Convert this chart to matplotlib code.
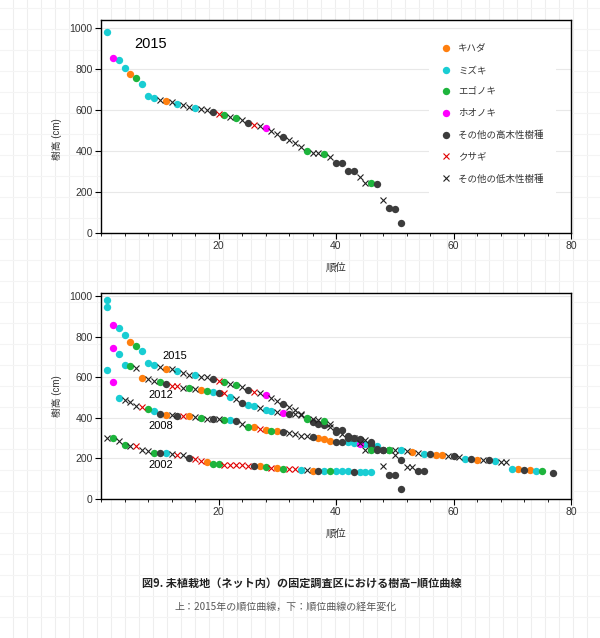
import numpy as np
import matplotlib
matplotlib.use('Agg')
import matplotlib.pyplot as plt
from matplotlib.ticker import MultipleLocator
from matplotlib.lines import Line2D

plt.rcParams['font.family'] = ['Liberation Sans', 'Noto Sans CJK JP', 'DejaVu Sans']

# ---- species (legend) ----
species_codes = ['K', 'M', 'E', 'H', 'T', 'S', 'L']
species_labels = ['キハダ', 'ミズキ', 'エゴノキ', 'ホオノキ', 'その他の高木性樹種', 'クサギ', 'その他の低木性樹種']
species_colors = ['#ff7f0e', '#19cdd3', '#1db43c', '#ff00ff', '#3c3c3c', '#e00000', '#222222']
species_markers = ['o', 'o', 'o', 'o', 'o', 'x', 'x']

# ---- data: heights (cm) in rank order, and species code per rank ----
h2015 = [980, 855, 845, 806, 776, 755, 727, 670, 659, 649, 642, 640, 629, 622, 613, 610, 603,
         600, 589, 579, 576, 566, 563, 552, 535, 525, 522, 511, 499, 484, 468, 452, 437, 421,
         400, 392, 389, 385, 369, 340, 340, 302, 300, 275, 242, 242, 240, 161, 120, 118, 50]
sp2015 = ("M H M M K E M M M L K L M L L M L L T S E L E L T S L H L L T L L L E L L E L "
          "T T T T L L E T L T T T").split()

h2012 = [946, 746, 716, 662, 654, 645, 597, 589, 580, 576, 568, 558, 556, 548, 546, 543, 539,
         531, 529, 524, 522, 505, 491, 471, 461, 459, 449, 439, 434, 431, 426, 421, 417, 413,
         394, 378, 372, 365, 355, 330, 318, 310, 302, 296, 293, 280, 245, 242, 240, 216, 190,
         160, 156, 137, 137]
sp2012 = ("M H M M E L K L L E T S S L E L K E M T S M L T M M L M M L H T L L E T T T L "
          "T L T L T L T T T E L T L L T T").split()

h2008 = [634, 576, 499, 487, 476, 460, 452, 442, 434, 418, 416, 412, 410, 410, 408, 406, 401,
         396, 394, 392, 391, 389, 385, 369, 356, 353, 345, 340, 337, 333, 328, 325, 322, 312,
         310, 307, 301, 296, 284, 281, 280, 280, 275, 272, 270, 265, 262, 243, 242, 242, 241,
         238, 231, 226, 221, 220, 219, 215, 213, 210, 207, 198, 195, 194, 191, 190, 185, 183,
         182, 150, 149, 142, 141, 138, 137, None, 130]
sp2008 = ("M H M L L L S E M T K L T S K L E L T L E M T L E K S K E K T L L L L T K K K "
          "T T M M H M T M T E L M L K L M T K K L T L M T K L T M L L M K T K M E - T").split()

h2002 = [302, 300, 285, 268, 259, 259, 239, 237, 227, 227, 227, 220, 216, 215, 200, 195, 185,
         180, 174, 174, 168, 167, 166, 166, 165, 163, 162, 160, 155, 155, 150, 150, 148, 142,
         141, 140, 140, 139, 138, 137, 137, 136, 134, 134, 133, 133]
sp2002 = ("L E L E L S L L E T M L S L T S S K E E S S S S S T K E S K E S S M L K T M E "
          "M M M T M M M").split()

year_labels = ['2015', '2012', '2008', '2002']
year_label_pos = [(10.5, 707), (8.1, 512), (8.1, 361), (8.1, 166)]

W, H = 600, 638
fig = plt.figure(figsize=(W / 100, H / 100), dpi=100)
fig.patch.set_facecolor('white')

# faint graph-paper background
bg = fig.add_axes([0, 0, 1, 1], zorder=-10)
bg.set_xlim(0, W)
bg.set_ylim(H, 0)
for xv in np.arange(13, W, 14):
    bg.axvline(xv, color='#eeeeee', lw=0.8)
for yv in np.arange(8, H, 21):
    bg.axhline(yv, color='#f4f4f4', lw=0.8)
bg.axis('off')

MS_O = 5.3
MS_X = 4.8


def draw_series(ax, heights, codes):
    ranks = np.arange(1, len(heights) + 1)
    for code, col, mk in zip(species_codes, species_colors, species_markers):
        xs = [r for r, h, c in zip(ranks, heights, codes) if c == code and h is not None]
        ys = [h for h, c in zip(heights, codes) if c == code and h is not None]
        if not xs:
            continue
        if mk == 'o':
            ax.plot(xs, ys, ls='none', marker='o', ms=MS_O, mfc=col, mec=col, mew=0, zorder=3)
        else:
            ax.plot(xs, ys, ls='none', marker='x', ms=MS_X, mec=col, mew=0.8, zorder=3)


def style_axes(ax, ytop):
    ax.set_xlim(0, 80)
    ax.set_ylim(0, ytop)
    ax.set_xticks([20, 40, 60, 80])
    ax.xaxis.set_minor_locator(MultipleLocator(4))
    ax.set_yticks([0, 200, 400, 600, 800, 1000])
    ax.yaxis.grid(True, color='#e8e8e8', lw=0.8)
    ax.set_axisbelow(True)
    for s in ax.spines.values():
        s.set_linewidth(1.0)
        s.set_color('black')
    ax.tick_params(axis='both', which='major', direction='out', length=4, width=0.8,
                   labelsize=7.5, labelcolor='#333333', pad=2)
    ax.tick_params(axis='x', which='minor', direction='out', length=2.5, width=0.6)
    ax.set_xlabel('順位', fontsize=7.5, color='#333333', labelpad=8)
    ax.set_ylabel('樹高 (cm)', fontsize=7, color='#333333', labelpad=3)


# ---- top chart (2015) ----
ax1 = fig.add_axes([101 / W, 1 - 233 / H, 470 / W, 213 / H])
style_axes(ax1, 1039)
ax1.yaxis.set_label_coords(-0.082, 0.44)
draw_series(ax1, h2015, sp2015)
ax1.text(5.6, 922, '2015', fontsize=10.5, va='center', ha='left', color='black')

handles = []
for lab, col, mk in zip(species_labels, species_colors, species_markers):
    if mk == 'o':
        handles.append(Line2D([], [], ls='none', marker='o', ms=MS_O, mfc=col, mec=col, mew=0, label=lab))
    else:
        handles.append(Line2D([], [], ls='none', marker='x', ms=MS_X, mec=col, mew=0.8, label=lab))
leg = ax1.legend(handles=handles, loc='upper left', bbox_to_anchor=(0.698, 0.942),
                 fontsize=6.8, frameon=True, facecolor='white', edgecolor='none', framealpha=1,
                 labelspacing=1.32, handlelength=1.0, handletextpad=0.8, borderpad=1.3,
                 borderaxespad=0)
for t in leg.get_texts():
    t.set_color('#333333')

# ---- bottom chart (all years) ----
ax2 = fig.add_axes([101 / W, 1 - 499 / H, 470 / W, 206 / H])
style_axes(ax2, 1015)
ax2.yaxis.set_label_coords(-0.082, 0.5)
for hs, sp in [(h2002, sp2002), (h2008, sp2008), (h2012, sp2012), (h2015, sp2015)]:
    draw_series(ax2, hs, sp)
for lab, (xx, yy) in zip(year_labels, year_label_pos):
    ax2.text(xx, yy, lab, fontsize=8, va='center', ha='left', color='black', zorder=5)

# ---- caption ----
fig.text(302 / W, 1 - 583 / H, '図9. 未植栽地（ネット内）の固定調査区における樹高−順位曲線',
         fontsize=8, fontweight='bold', ha='center', va='center', color='#222222',
         family=['Noto Sans CJK JP', 'DejaVu Sans'])
fig.text(286 / W, 1 - 607 / H, '上：2015年の順位曲線，下：順位曲線の経年変化',
         fontsize=7.2, ha='center', va='center', color='#555555',
         family=['Noto Sans CJK JP', 'DejaVu Sans'])

fig.savefig('out.png', dpi=100, facecolor='white')
